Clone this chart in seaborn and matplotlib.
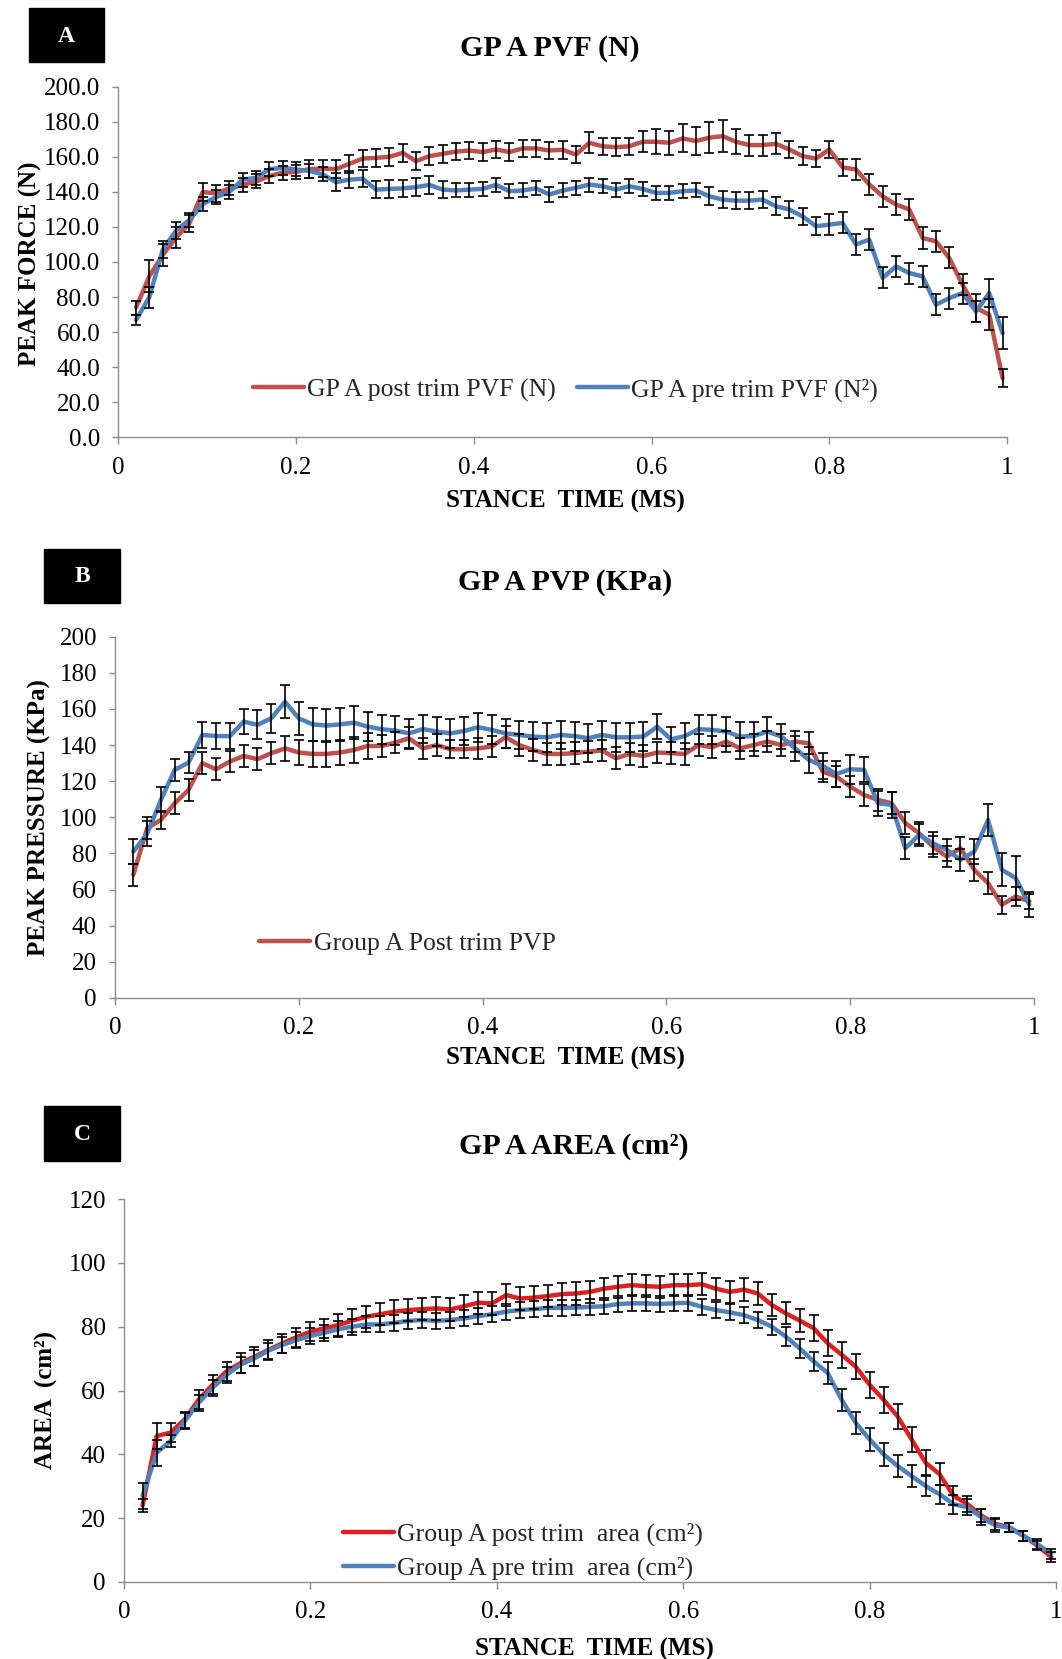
import matplotlib
matplotlib.use("Agg")
import matplotlib.pyplot as plt
import seaborn as sns
from matplotlib.patches import Rectangle
from matplotlib.lines import Line2D

# ---------------- data ----------------
stance_time = [0.020, 0.035, 0.050, 0.065, 0.080, 0.095, 0.110, 0.125, 0.140, 0.155,
               0.170, 0.185, 0.200, 0.215, 0.230, 0.245, 0.260, 0.275, 0.290, 0.305,
               0.320, 0.335, 0.350, 0.365, 0.380, 0.395, 0.410, 0.425, 0.440, 0.455,
               0.470, 0.485, 0.500, 0.515, 0.530, 0.545, 0.560, 0.575, 0.590, 0.605,
               0.620, 0.635, 0.650, 0.665, 0.680, 0.695, 0.710, 0.725, 0.740, 0.755,
               0.770, 0.785, 0.800, 0.815, 0.830, 0.845, 0.860, 0.875, 0.890, 0.905,
               0.920, 0.935, 0.950, 0.965, 0.980, 0.995]

x_ticks = [0, 0.2, 0.4, 0.6, 0.8, 1.0]
x_tick_labels = ["0", "0.2", "0.4", "0.6", "0.8", "1"]

# Panel A : peak vertical force (N)
pvf_post = [74, 92, 104, 114, 122, 140, 139, 142, 144, 146,
            149, 151, 151.4, 153, 153.3, 153, 156, 159, 159.4, 160,
            162.3, 157.5, 160.4, 161.7, 163, 163.6, 162.7, 164.2, 162.7, 164.8,
            164.8, 163.6, 164, 161.3, 168, 166, 165.5, 166, 168.6, 168.6,
            168, 170.5, 169, 170.9, 171.8, 168.6, 166.7, 166.7, 167.4, 164.2,
            160.4, 159, 164.2, 154, 152.8, 144.2, 137.5, 132.8, 130, 113.7,
            111.8, 102.3, 87, 73.7, 70, 33.7]
pvf_post_err = [4, 9, 6, 6, 5, 5, 5, 4, 4, 4,
                4, 4, 4, 5, 5, 5, 5, 5, 5, 5,
                5, 5, 5, 5, 5, 5, 5, 5, 5, 5,
                5, 5, 5, 5, 6, 5, 5, 5, 6, 7,
                7, 8, 8, 9, 9, 7, 6, 6, 6, 5,
                5, 5, 5, 5, 6, 6, 6, 6, 6, 6,
                6, 6, 6, 8, 9, 5]
pvf_pre = [67, 80, 107, 118, 124, 133, 137, 140, 147, 148,
           153, 153.7, 152.8, 152, 150, 145.5, 147, 147.5, 141.3, 141.7,
           142, 142.7, 144, 141.3, 140.8, 141.3, 141.7, 144, 140.4, 140.8,
           142, 138.5, 140.8, 142.3, 144.2, 143.2, 141.3, 143.2, 141.7, 139.4,
           139.4, 140.4, 140.8, 137.5, 135.6, 135, 135, 135.6, 131.8, 130,
           126, 120.4, 121.3, 122.3, 110, 112.8, 90.9, 97.5, 93.7, 91.8,
           75.6, 79.4, 82.3, 71.8, 82.3, 59.4]
pvf_pre_err = [3, 6, 5, 5, 4, 4, 4, 4, 4, 4,
               4, 4, 4, 4, 4, 5, 5, 5, 5, 5,
               5, 5, 5, 5, 4, 4, 4, 4, 4, 4,
               4, 4, 4, 4, 4, 4, 4, 4, 4, 4,
               4, 4, 4, 5, 5, 5, 5, 5, 5, 5,
               5, 5, 6, 6, 6, 6, 6, 6, 6, 6,
               6, 6, 6, 6, 8, 9]
pvf_y_ticks = [0, 20, 40, 60, 80, 100, 120, 140, 160, 180, 200]
pvf_y_labels = ["0.0", "20.0", "40.0", "60.0", "80.0", "100.0", "120.0",
                "140.0", "160.0", "180.0", "200.0"]

# Panel B : peak pressure (KPa)
pvp_post = [68.2, 94, 98.6, 107.8, 115.2, 130, 126.6, 130.9, 134, 132.2,
            135.5, 138.2, 135.9, 135.1, 135.1, 135.9, 137.3, 139.5, 139.5, 141.4,
            143.8, 138.2, 140, 137.7, 137.7, 138.2, 139.2, 144.4, 140, 137.3,
            135.1, 135.1, 135.5, 136.4, 137, 132.7, 135.1, 134, 135.9, 135.5,
            135.1, 140, 138.8, 142, 138.2, 140, 142, 140, 142, 141,
            125.3, 122.6, 117, 112.4, 109.7, 107.8, 96.8, 91.2, 83.8, 78.3,
            82.9, 70.9, 63.6, 51.6, 56.2, 53.5]
pvp_post_err = [6, 6, 5, 6, 6, 6, 6, 6, 6, 6,
                6, 7, 7, 7, 7, 7, 7, 7, 6, 6,
                6, 6, 6, 5, 5, 6, 6, 6, 6, 6,
                6, 6, 6, 6, 6, 6, 6, 6, 6, 6,
                6, 6, 6, 6, 6, 6, 6, 6, 6, 6,
                6, 6, 6, 6, 6, 6, 6, 6, 6, 6,
                6, 6, 6, 5, 5, 4]
pvp_pre = [81, 91, 109.7, 126.3, 130.3, 145.6, 145, 145, 153, 151.2,
           154.8, 164, 154.8, 151.5, 150.8, 151.5, 152.4, 150.2, 148.8, 148,
           146.5, 148.9, 147.5, 146.5, 147.8, 149.9, 148.4, 146.5, 145.6, 144.7,
           144.3, 145.6, 145, 143.8, 145.6, 144.3, 144.3, 144.7, 150.2, 143.2,
           145, 148.8, 148.4, 147.5, 144.7, 145, 147.5, 144.7, 138.2, 131.8,
           128.5, 124, 126.6, 126.3, 107.8, 106.9, 82.9, 90.3, 85.7, 82,
           76.5, 81, 98.6, 71, 66.4, 51.6]
pvp_pre_err = [7, 7, 7, 6, 6, 7, 7, 7, 7, 8,
               8, 9, 9, 9, 9, 9, 9, 8, 8, 8,
               8, 8, 8, 8, 8, 8, 8, 8, 8, 8,
               8, 8, 8, 8, 8, 8, 8, 8, 7, 7,
               7, 8, 8, 8, 8, 8, 8, 7, 7, 7,
               7, 7, 8, 7, 7, 7, 6, 6, 6, 6,
               6, 7, 9, 9, 12, 7]
pvp_y_ticks = [0, 20, 40, 60, 80, 100, 120, 140, 160, 180, 200]
pvp_y_labels = ["0", "20", "40", "60", "80", "100", "120", "140", "160", "180", "200"]

# Panel C : contact area (cm2)
area_post = [24, 45.7, 46.8, 50.9, 57.1, 61.8, 66, 68.6, 70.6, 72.7,
             74.8, 76.7, 78.4, 79.5, 80.5, 81.9, 83.1, 83.9, 84.7, 85.2,
             85.5, 85.7, 85.4, 86.4, 87.5, 87.3, 89.9, 88.8, 89.1, 89.6,
             90.2, 90.4, 90.9, 91.9, 92.5, 93, 92.7, 92.5, 93, 93,
             93.3, 91.9, 90.9, 91.6, 90.4, 86.8, 84.2, 81.9, 79.5, 74.8,
             71.2, 67.5, 61.8, 57.1, 51.9, 44.7, 37.4, 33.8, 27, 24.4,
             20.8, 18.2, 17.1, 14.5, 11.4, 7.8]
area_post_err = [2, 4, 3, 2.5, 3, 3, 3, 3, 3, 3,
                 3, 3, 3, 3, 3.5, 3.5, 3.5, 3.5, 3.5, 3.5,
                 3.5, 3.5, 3.5, 3.5, 3.5, 3.5, 3.5, 3.5, 3.5, 3.5,
                 3.5, 3.5, 3.5, 3.5, 3.5, 3.5, 3.5, 3.5, 3.5, 3.5,
                 3.5, 3.5, 3.5, 3.5, 3.5, 3.5, 3.5, 3.5, 4, 4,
                 4, 4, 4, 4, 4, 4, 4, 3.5, 3, 2.5,
                 2, 2, 1.5, 1.5, 1.5, 1.5]
area_pre = [27, 40.5, 44.2, 50.4, 56.1, 60.8, 64.9, 68.1, 70.1, 72.5,
            74.3, 75.8, 77.1, 78.1, 79.2, 80, 80.7, 80.7, 81.2, 81.8,
            82.1, 81.8, 82.1, 82.6, 83.3, 83.9, 84.7, 85.2, 85.5, 85.9,
            85.9, 86, 86.2, 86.4, 87.1, 87.3, 87.3, 87.1, 87.3, 87.5,
            86.2, 85.2, 84.5, 83.6, 82.1, 80, 76.9, 73.2, 69.1, 65.5,
            57.1, 49.9, 44.7, 40, 36.4, 33.2, 30.1, 27.5, 24.4, 23.4,
            20.3, 17.7, 17.1, 14.5, 11.9, 8.8]
area_pre_err = [4, 4, 2, 2.5, 2.5, 2.5, 2.5, 2.5, 2.5, 2.5,
                2.5, 2.5, 2.5, 2.5, 2.5, 2.5, 2.5, 2.5, 2.5, 2.5,
                2.5, 2.5, 2.5, 2.5, 2.5, 2.5, 2.5, 2.5, 2.5, 2.5,
                2.5, 2.5, 2.5, 2.5, 2.5, 2.5, 2.5, 2.5, 2.5, 2.5,
                2.5, 2.5, 2.5, 2.5, 2.5, 2.5, 3, 3, 3, 3.5,
                3.5, 3.5, 3.5, 3.5, 3.5, 3.5, 3, 3, 3, 2.5,
                2.5, 2, 1.5, 1.5, 1.5, 1.5]
area_y_ticks = [0, 20, 40, 60, 80, 100, 120]
area_y_labels = ["0", "20", "40", "60", "80", "100", "120"]

# ---------------- style ----------------
sns.set_theme(style="white")
plt.rcParams['font.family'] = ['Liberation Serif', 'DejaVu Serif']

W, H = 1062, 1659
fig = plt.figure(figsize=(W / 100, H / 100), dpi=100)
fig.patch.set_facecolor("white")

RED_AB = "#C0504D"
BLUE = "#4F81BD"
RED_C = "#E31E1E"
SPINE = "#8C8C8C"
LW = 3.2


def px_axes(left, right, top, bottom):
    return fig.add_axes([left / W, 1 - bottom / H, (right - left) / W, (bottom - top) / H])


def ftext(x, y, s, **kw):
    fig.text(x / W, 1 - y / H, s, ha="center", va="center", **kw)


def panel_box(x0, y0, x1, y1, letter):
    fig.add_artist(Rectangle((x0 / W, 1 - y1 / H), (x1 - x0) / W, (y1 - y0) / H,
                             transform=fig.transFigure, facecolor="black",
                             edgecolor="black"))
    ftext((x0 + x1) / 2, (y0 + y1) / 2 + 1, letter, color="white",
          fontsize=17, fontweight="bold")


panels = [
    dict(rect=(118.3, 1007, 86.7, 437.3), ymax=200,
         yt=pvf_y_ticks, yl=pvf_y_labels,
         series=[(pvf_post, pvf_post_err, RED_AB, "GP A post trim PVF (N)"),
                 (pvf_pre, pvf_pre_err, BLUE, "GP A pre trim PVF (N\u00b2)")],
         legend_idx=[0, 1], ncol=2, leg_anchor=(0.503, 0.135),
         box=(29, 8, 104, 62, "A"), title=(550, 49, "GP A PVF (N)"),
         ylabel=(30, 264, "PEAK FORCE (N)"), xlabel=(565, 501)),
    dict(rect=(115, 1034, 636.7, 998), ymax=200,
         yt=pvp_y_ticks, yl=pvp_y_labels,
         series=[(pvp_post, pvp_post_err, RED_AB, "Group A Post trim PVP"),
                 (pvp_pre, pvp_pre_err, BLUE, None)],
         legend_idx=[0], ncol=1, leg_anchor=(0.318, 0.152),
         box=(44, 549, 120, 603, "B"), title=(565, 583, "GP A PVP (KPa)"),
         ylabel=(39, 818, "PEAK PRESSURE (KPa)"), xlabel=(565, 1058)),
    dict(rect=(124, 1056, 1199, 1582), ymax=120,
         yt=area_y_ticks, yl=area_y_labels,
         series=[(area_post, area_post_err, RED_C, "Group A post trim  area (cm\u00b2)"),
                 (area_pre, area_pre_err, BLUE, "Group A pre trim  area (cm\u00b2)")],
         legend_idx=[0, 1], ncol=1, leg_anchor=(0.428, 0.080),
         box=(44, 1106, 120, 1161, "C"), title=(574, 1147, "GP A AREA (cm\u00b2)"),
         ylabel=(46, 1400, "AREA  (cm\u00b2)"), xlabel=(594, 1649)),
]

for p in panels:
    ax = px_axes(*p["rect"])
    for yv, ev, col, lab in p["series"]:
        sns.lineplot(x=stance_time, y=yv, ax=ax, color=col, linewidth=LW,
                     legend=False, zorder=2)
        ax.errorbar(stance_time, yv, yerr=ev, fmt="none", ecolor="black",
                    elinewidth=1.2, capsize=3.8, capthick=1.2, zorder=3)
    ax.set_xlim(0, 1)
    ax.set_ylim(0, p["ymax"])
    ax.set_xticks(x_ticks)
    ax.set_xticklabels(x_tick_labels)
    ax.set_yticks(p["yt"])
    ax.set_yticklabels(p["yl"])
    ax.set_xlabel("")
    ax.set_ylabel("")
    for s in ("top", "right"):
        ax.spines[s].set_visible(False)
    for s in ("left", "bottom"):
        ax.spines[s].set_color(SPINE)
        ax.spines[s].set_linewidth(1.0)
    ax.tick_params(axis="x", direction="out", length=5, width=1, color=SPINE,
                   pad=9, labelsize=18, labelcolor="black", bottom=True)
    ax.tick_params(axis="y", direction="out", length=4, width=1, color=SPINE,
                   pad=9, labelsize=18, labelcolor="black", left=True)
    ax.grid(False)
    ax.set_facecolor("none")

    leg_handles = [Line2D([0], [0], color=p["series"][i][2], linewidth=LW)
                   for i in p["legend_idx"]]
    leg_labels = [p["series"][i][3] for i in p["legend_idx"]]
    ax.legend(leg_handles, leg_labels, loc="center", bbox_to_anchor=p["leg_anchor"],
              ncol=p["ncol"], frameon=False, fontsize=18.5, handlelength=2.0,
              handletextpad=0.12, columnspacing=0.8, labelspacing=0.4,
              borderpad=0, borderaxespad=0)

    panel_box(*p["box"])
    tx, ty, tt = p["title"]
    ftext(tx, ty, tt, fontsize=21.5, fontweight="bold", color="black")
    yx, yy, yt = p["ylabel"]
    ftext(yx, yy, yt, fontsize=18, fontweight="bold", rotation=90, color="black")
    xx, xy = p["xlabel"]
    ftext(xx, xy, "STANCE  TIME (MS)", fontsize=18, fontweight="bold", color="black")

fig.savefig("out.png", dpi=100, facecolor="white")
